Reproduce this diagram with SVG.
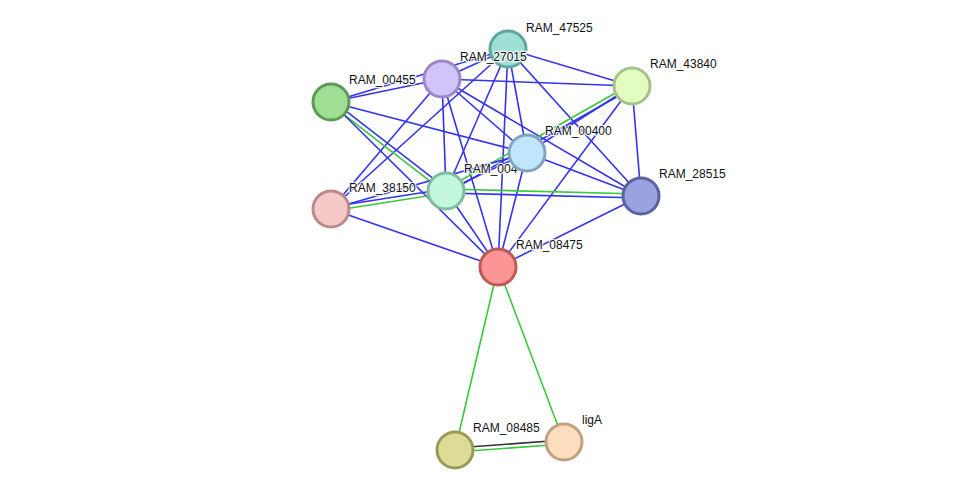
<svg xmlns="http://www.w3.org/2000/svg" width="976" height="495" viewBox="0 0 976 495">
<style>
.b{stroke:#3434ee;stroke-width:1.6;fill:none}
.g{stroke:#3cc83c;stroke-width:1.6;fill:none}
.k{stroke:#333;stroke-width:1.6;fill:none}
.n{stroke-width:3}
text{font-family:"Liberation Sans",Arial,sans-serif;font-size:12px;fill:#111;stroke:#fff;stroke-width:2.5;stroke-opacity:0.85;paint-order:stroke;stroke-linejoin:round}
</style>
<rect width="976" height="495" fill="#fff"/>
<g id="edges">
<line class="b" x1="508" y1="49" x2="442" y2="79"/>
<line class="b" x1="508" y1="49" x2="331" y2="102"/>
<line class="b" x1="508" y1="49" x2="632" y2="86"/>
<line class="b" x1="508" y1="49" x2="527" y2="153"/>
<line class="b" x1="508" y1="49" x2="446" y2="191"/>
<line class="b" x1="508" y1="49" x2="331" y2="209"/>
<line class="b" x1="508" y1="49" x2="641" y2="196"/>
<line class="b" x1="508" y1="49" x2="498" y2="267"/>
<line class="b" x1="442" y1="79" x2="331" y2="102"/>
<line class="b" x1="442" y1="79" x2="632" y2="86"/>
<line class="b" x1="442" y1="79" x2="527" y2="153"/>
<line class="b" x1="442" y1="79" x2="446" y2="191"/>
<line class="b" x1="442" y1="79" x2="331" y2="209"/>
<line class="b" x1="442" y1="79" x2="641" y2="196"/>
<line class="b" x1="442" y1="79" x2="498" y2="267"/>
<line class="b" x1="331" y1="102" x2="527" y2="153"/>
<line class="g" x1="329.8" y1="103.6" x2="444.8" y2="192.6"/>
<line class="b" x1="332.2" y1="100.4" x2="447.2" y2="189.4"/>
<line class="b" x1="331" y1="102" x2="498" y2="267"/>
<line class="b" x1="632" y1="86" x2="527" y2="153"/>
<line class="g" x1="631" y1="84.3" x2="445" y2="189.3"/>
<line class="b" x1="633" y1="87.7" x2="447" y2="192.7"/>
<line class="b" x1="632" y1="86" x2="641" y2="196"/>
<line class="b" x1="632" y1="86" x2="498" y2="267"/>
<line class="b" x1="527" y1="153" x2="446" y2="191"/>
<line class="b" x1="527" y1="153" x2="331" y2="209"/>
<line class="b" x1="527" y1="153" x2="641" y2="196"/>
<line class="b" x1="527" y1="153" x2="498" y2="267"/>
<line class="g" x1="446.3" y1="193" x2="331.3" y2="211"/>
<line class="b" x1="445.7" y1="189" x2="330.7" y2="207"/>
<line class="g" x1="446" y1="189" x2="641" y2="194"/>
<line class="b" x1="446" y1="193" x2="641" y2="198"/>
<line class="b" x1="446" y1="191" x2="498" y2="267"/>
<line class="b" x1="331" y1="209" x2="498" y2="267"/>
<line class="b" x1="641" y1="196" x2="498" y2="267"/>
<line class="g" x1="498" y1="267" x2="455" y2="450"/>
<line class="g" x1="498" y1="267" x2="564" y2="442"/>
<line class="k" x1="455" y1="448" x2="564" y2="440"/>
<line class="g" x1="455" y1="452" x2="564" y2="444"/>
</g>
<g id="RAM_47525"><circle class="n" cx="508" cy="49" r="18" fill="#9ee0d6" stroke="#5ea59b"/><text x="526" y="32">RAM_47525</text></g>
<g id="RAM_27015"><circle class="n" cx="442" cy="79" r="18" fill="#d2c3fb" stroke="#9b88c7"/><text x="460" y="61">RAM_27015</text></g>
<g id="RAM_00455"><circle class="n" cx="331" cy="102" r="18" fill="#9fde94" stroke="#5e9a56"/><text x="349" y="84">RAM_00455</text></g>
<g id="RAM_43840"><circle class="n" cx="632" cy="86" r="18" fill="#e2fcc2" stroke="#a5c28a"/><text x="650" y="68">RAM_43840</text></g>
<g id="RAM_004"><circle class="n" cx="446" cy="191" r="18" fill="#c2f7dc" stroke="#80bd9f"/><text x="464" y="173">RAM_004</text></g>
<g id="RAM_00400"><circle class="n" cx="527" cy="153" r="18" fill="#c0e6fb" stroke="#80a5ba"/><text x="545" y="135">RAM_00400</text></g>
<g id="RAM_38150"><circle class="n" cx="331" cy="209" r="18" fill="#f7c8c8" stroke="#b88a8a"/><text x="349" y="192">RAM_38150</text></g>
<g id="RAM_28515"><circle class="n" cx="641" cy="196" r="18" fill="#99a3e0" stroke="#5a639e"/><text x="659" y="178">RAM_28515</text></g>
<g id="RAM_08475"><circle class="n" cx="498" cy="267" r="18" fill="#fc9696" stroke="#c05858"/><text x="516" y="249">RAM_08475</text></g>
<g id="RAM_08485"><circle class="n" cx="455" cy="450" r="18" fill="#dcdc98" stroke="#9a9a58"/><text x="473" y="432">RAM_08485</text></g>
<g id="ligA"><circle class="n" cx="564" cy="442" r="18" fill="#fedcbe" stroke="#c0a282"/><text x="582" y="424">ligA</text></g>
</svg>
